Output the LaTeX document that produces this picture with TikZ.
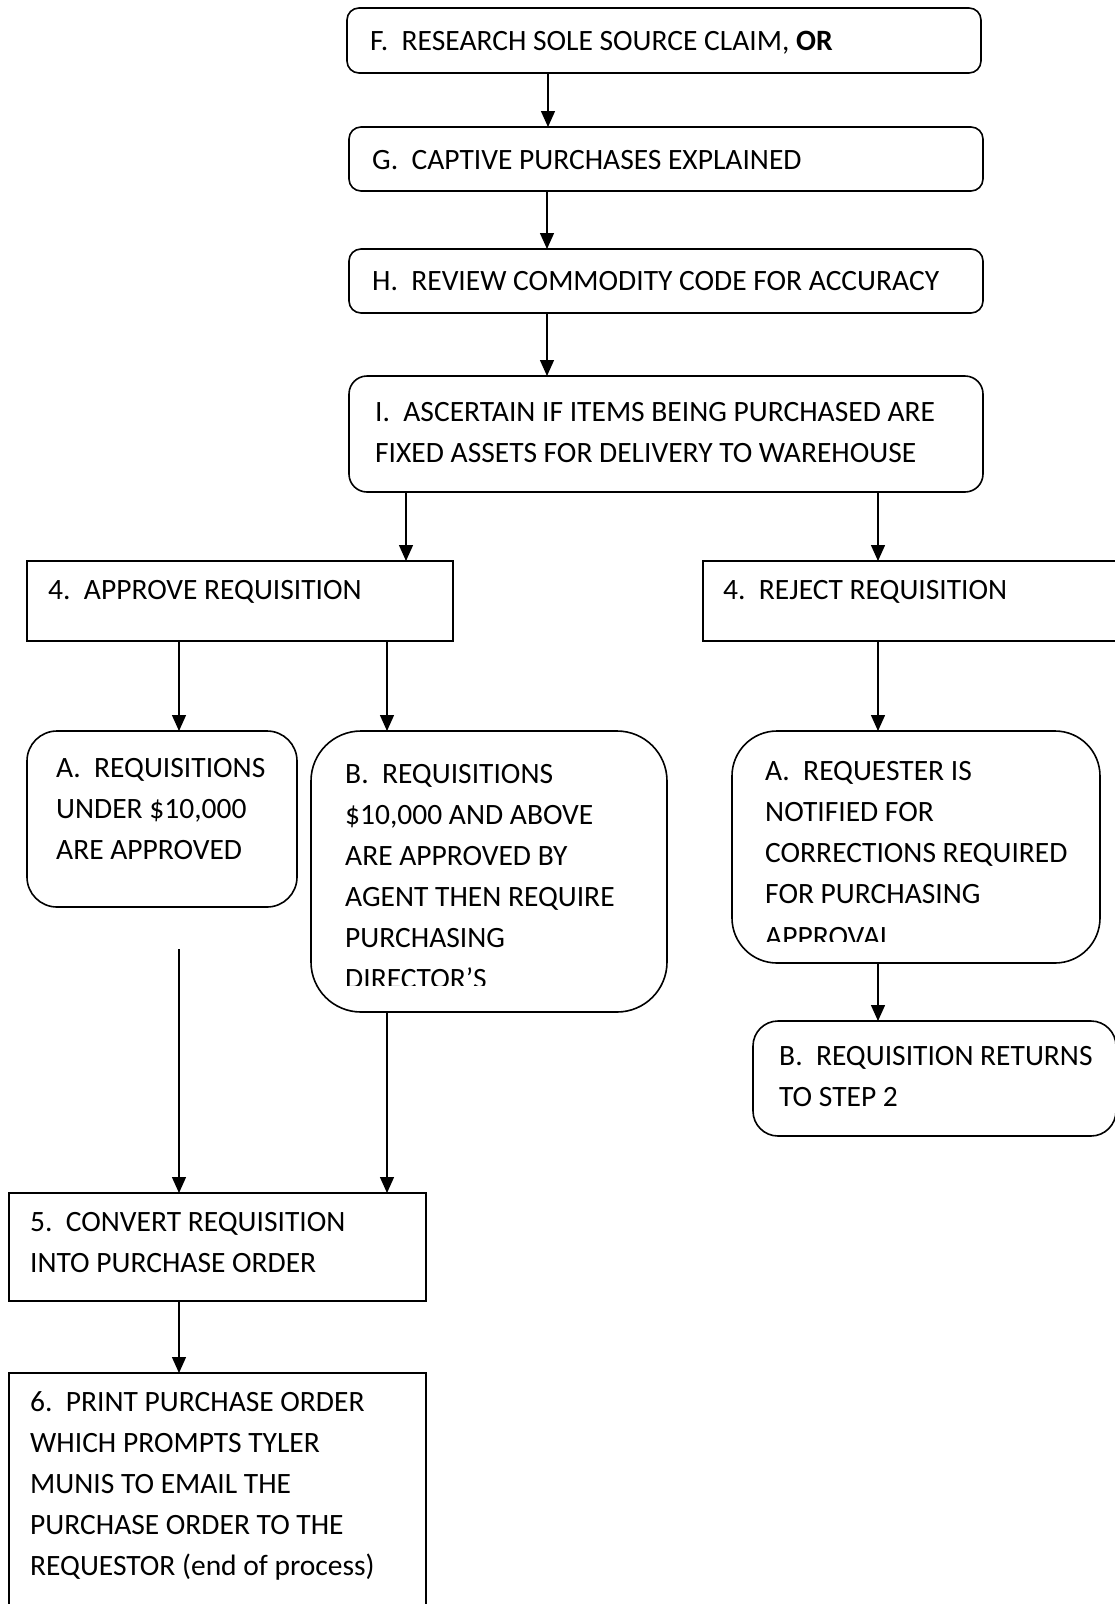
\documentclass[tikz,border=0pt]{standalone}
\usepackage{fontspec}
\setmainfont{Carlito}
\usetikzlibrary{arrows.meta}
\begin{document}
\begin{tikzpicture}[x=1pt,y=-1pt,
  box/.style={draw, line width=1.6pt, anchor=north west, inner sep=0pt, outer sep=0pt},
  txt/.style={anchor=base west, inner sep=0pt, font=\fontsize{29.5}{41}\selectfont},
  arr/.style={line width=1.4pt, -{Triangle[width=14pt,length=16pt]}}]
\useasboundingbox (0,0) rectangle (1115,1604);
\fill[white] (0,0) rectangle (1115,1604);
% boxes
\node[box, rounded corners=12pt, minimum width=634pt, minimum height=65pt] (f) at (347,8) {};
\node[box, rounded corners=12pt, minimum width=634pt, minimum height=64pt] (g) at (349,127) {};
\node[box, rounded corners=12pt, minimum width=634pt, minimum height=64pt] (h) at (349,249) {};
\node[box, rounded corners=18pt, minimum width=634pt, minimum height=116pt] (i) at (349,376) {};
\node[box, minimum width=426pt, minimum height=80pt] (ap) at (27,561) {};
\node[box, minimum width=440pt, minimum height=80pt] (rj) at (703,561) {};
\node[box, rounded corners=30pt, minimum width=270pt, minimum height=176pt] (aa) at (27,731) {};
\node[box, rounded corners=50pt, minimum width=356pt, minimum height=281pt] (ab) at (311,731) {};
\node[box, rounded corners=45pt, minimum width=368pt, minimum height=232pt] (ra) at (732,731) {};
\node[box, rounded corners=25pt, minimum width=363pt, minimum height=115pt] (rb) at (753,1021) {};
\node[box, minimum width=417pt, minimum height=108pt] (b5) at (9,1193) {};
\node[box, minimum width=417pt, minimum height=260pt] (b6) at (9,1373) {};
% texts
\node[txt] (tf) at (370,50) {F.~~RESEARCH SOLE SOURCE CLAIM, \textbf{OR}};
\node[txt] (tg) at (372,169) {G.~~CAPTIVE PURCHASES EXPLAINED};
\node[txt] (th) at (372,290) {H.~~REVIEW COMMODITY CODE FOR ACCURACY};
\node[txt] (ti1) at (375,421) {I.~~ASCERTAIN IF ITEMS BEING PURCHASED ARE};
\node[txt] (ti2) at (375,462) {FIXED ASSETS FOR DELIVERY TO WAREHOUSE};
\node[txt] (tap) at (48,599) {4.~~APPROVE REQUISITION};
\node[txt] (trj) at (723,599) {4.~~REJECT REQUISITION};
\node[txt] (taa1) at (56,777) {A.~~REQUISITIONS};
\node[txt] (taa2) at (56,818) {UNDER \$10,000};
\node[txt] (taa3) at (56,859) {ARE APPROVED};
\node[txt] (tab1) at (345,783) {B.~~REQUISITIONS};
\node[txt] (tab2) at (345,824) {\$10,000 AND ABOVE};
\node[txt] (tab3) at (345,865) {ARE APPROVED BY};
\node[txt] (tab4) at (345,906) {AGENT THEN REQUIRE};
\node[txt] (tab5) at (345,947) {PURCHASING};
\begin{scope}
\clip (330,950) rectangle (650,985);
\node[txt] (tab6) at (345,988) {DIRECTOR’S};
\end{scope}
\node[txt] (tra1) at (765,780) {A.~~REQUESTER IS};
\node[txt] (tra2) at (765,821) {NOTIFIED FOR};
\node[txt] (tra3) at (765,862) {CORRECTIONS REQUIRED};
\node[txt] (tra4) at (765,903) {FOR PURCHASING};
\begin{scope}
\clip (750,912) rectangle (1090,941);
\node[txt] (tra5) at (765,946) {APPROVAL};
\end{scope}
\node[txt] (trb1) at (779,1065) {B.~~REQUISITION RETURNS};
\node[txt] (trb2) at (779,1106) {TO STEP 2};
\node[txt] (t51) at (30,1231) {5.~~CONVERT REQUISITION};
\node[txt] (t52) at (30,1272) {INTO PURCHASE ORDER};
\node[txt] (t61) at (30,1411) {6.~~PRINT PURCHASE ORDER};
\node[txt] (t62) at (30,1452) {WHICH PROMPTS TYLER};
\node[txt] (t63) at (30,1493) {MUNIS TO EMAIL THE};
\node[txt] (t64) at (30,1534) {PURCHASE ORDER TO THE};
\node[txt] (t65) at (30,1575) {REQUESTOR (end of process)};
% connector columns
\coordinate (c1) at (548,0);
\coordinate (c2) at (547,0);
\coordinate (cl) at (406,0);
\coordinate (cr) at (878,0);
\coordinate (ca) at (179,0);
\coordinate (cb) at (387,0);
\coordinate (free) at (179,949);
% connectors
\draw[arr] (c1 |- f.south) -- (c1 |- g.north);
\draw[arr] (c2 |- g.south) -- (c2 |- h.north);
\draw[arr] (c2 |- h.south) -- (c2 |- i.north);
\draw[arr] (cl |- i.south) -- (cl |- ap.north);
\draw[arr] (cr |- i.south) -- (cr |- rj.north);
\draw[arr] (ca |- ap.south) -- (ca |- aa.north);
\draw[arr] (cb |- ap.south) -- (cb |- ab.north);
\draw[arr] (cr |- rj.south) -- (cr |- ra.north);
\draw[arr] (cr |- ra.south) -- (cr |- rb.north);
\draw[arr] (free) -- (ca |- b5.north);
\draw[arr] (cb |- ab.south) -- (cb |- b5.north);
\draw[arr] (ca |- b5.south) -- (ca |- b6.north);
\end{tikzpicture}
\end{document}
